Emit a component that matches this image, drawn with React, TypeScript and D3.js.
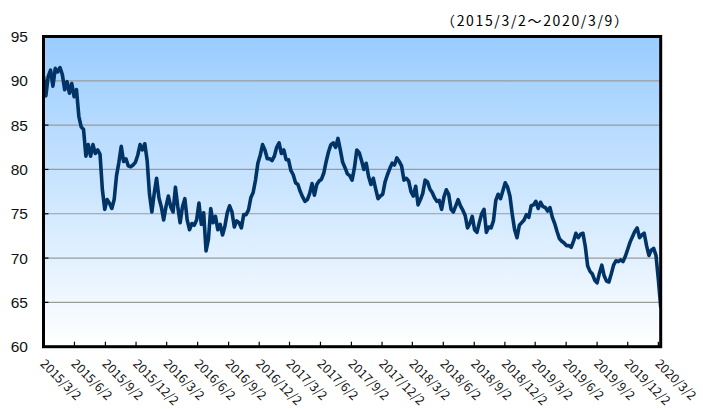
import React from 'react'
import * as d3 from 'd3'

const W = 703
const H = 409
const P = { left: 43.5, right: 660.7, top: 36.5, bottom: 346.7 }

const TITLE = '（2015/3/2～2020/3/9）'
const START = '2015-03-02'
const END = '2020-03-09'

// weekly values, first one on 2015/3/2, last one on 2020/3/9
const WEEKLY = [
  90.5, 88.3, 90.5, 91.2, 89.4, 91.4, 91.0, 91.5, 90.7, 89.0,
  89.9, 88.6, 89.7, 88.2, 89.0, 86.0, 84.8, 84.5, 81.5, 82.8,
  81.5, 82.8, 81.8, 82.2, 81.7, 77.7, 75.5, 76.6, 76.2, 75.6,
  76.6, 79.3, 80.8, 82.6, 80.9, 81.2, 80.4, 80.3, 80.5, 80.8,
  81.6, 82.8, 82.2, 82.9, 81.0, 77.2, 75.2, 77.3, 79.0, 76.8,
  75.8, 74.3, 75.8, 77.0, 75.8, 75.2, 78.0, 75.8, 74.0, 75.8,
  76.7, 74.3, 73.2, 73.9, 73.7, 74.3, 76.2, 73.8, 75.1, 70.8,
  72.1, 75.6, 74.0, 74.7, 73.2, 73.8, 72.6, 73.6, 75.1, 75.9,
  75.2, 73.5, 74.2, 74.0, 73.4, 74.9, 74.9, 75.4, 76.8, 77.4,
  78.8, 80.7, 81.6, 82.8, 82.2, 81.2, 81.2, 81.0, 81.5, 82.5,
  83.0, 81.8, 82.2, 81.1, 81.1, 79.9, 79.4, 78.5, 78.3, 77.5,
  76.9, 76.4, 76.6, 77.3, 78.4, 77.1, 78.3, 78.7, 78.9, 79.6,
  80.9, 82.0, 82.8, 83.0, 82.5, 83.5, 82.2, 80.8, 80.2, 79.5,
  79.3, 78.8, 80.2, 82.2, 81.9, 81.0, 80.0, 80.7, 79.2, 78.3,
  79.0, 77.8, 76.7, 77.0, 77.2, 78.6, 79.4, 80.1, 80.7, 80.5,
  81.3, 80.9, 80.4, 78.8, 79.0, 78.7, 77.5, 77.0, 78.1, 76.0,
  76.6, 77.3, 78.8, 78.6, 77.8, 77.4, 76.8, 76.4, 76.5, 75.5,
  76.9, 77.7, 77.2, 75.5, 75.2, 75.9, 76.6, 75.9, 75.4, 74.8,
  73.4, 73.9, 74.7, 73.2, 72.9, 74.0, 75.0, 75.5, 72.9, 73.5,
  73.4, 74.2, 76.5, 77.2, 76.7, 77.6, 78.5, 78.0, 77.0, 74.9,
  73.2, 72.3, 73.7, 74.0, 74.3, 74.9, 74.6, 75.9, 76.0, 76.4,
  75.6, 76.3, 75.8, 75.7, 75.3, 75.7, 74.6, 73.9, 73.0, 72.2,
  71.9, 71.7, 71.4, 71.4, 71.2, 71.9, 72.8, 72.3, 72.7, 72.8,
  71.3, 69.1, 68.5, 68.2, 67.5, 67.2, 68.3, 69.2, 68.0, 67.4,
  67.3, 68.2, 69.2, 69.7, 69.6, 69.8, 69.6, 70.2, 71.0, 71.8,
  72.4, 73.0, 73.4, 72.3, 72.6, 72.8, 71.4, 70.3, 70.9, 71.1,
  70.3, 67.6, 64.5,
]

const Y_TICKS = [60, 65, 70, 75, 80, 85, 90, 95]
const X_TICKS = [
  '2015/3/2', '2015/6/2', '2015/9/2', '2015/12/2',
  '2016/3/2', '2016/6/2', '2016/9/2', '2016/12/2',
  '2017/3/2', '2017/6/2', '2017/9/2', '2017/12/2',
  '2018/3/2', '2018/6/2', '2018/9/2', '2018/12/2',
  '2019/3/2', '2019/6/2', '2019/9/2', '2019/12/2',
  '2020/3/2',
]

const parseYmd = d3.timeParse('%Y-%m-%d')
const parseSlash = d3.timeParse('%Y/%m/%d')

export default function App() {
  const start = parseYmd(START) as Date
  const end = parseYmd(END) as Date
  const data = WEEKLY.map((v, i) => ({ date: d3.timeDay.offset(start, i * 7), v }))

  const x = d3.scaleTime().domain([start, end]).range([P.left, P.right])
  const y = d3.scaleLinear().domain([60, 95]).range([P.bottom, P.top])

  const line = d3
    .line<{ date: Date; v: number }>()
    .x((d) => x(d.date))
    .y((d) => y(d.v))

  const jp = '"Noto Sans CJK JP", "Noto Sans", sans-serif'

  return (
    <svg
      width={W}
      height={H}
      viewBox={`0 0 ${W} ${H}`}
      style={{ position: 'absolute', left: 0, top: 0, background: '#fff' }}
    >
      <defs>
        <linearGradient id="bg" x1="0" y1="0" x2="0" y2="1">
          <stop offset="0" stopColor="#99ccff" />
          <stop offset="1" stopColor="#ffffff" />
        </linearGradient>
        <clipPath id="clip">
          <rect x={P.left} y={P.top} width={P.right - P.left} height={P.bottom - P.top} />
        </clipPath>
      </defs>

      <text
        x={441}
        y={26}
        textLength={187}
        lengthAdjust="spacing"
        fontFamily={jp}
        fontSize={14}
        fill="#000"
      >
        {TITLE}
      </text>

      <rect x={P.left} y={P.top} width={P.right - P.left} height={P.bottom - P.top} fill="url(#bg)" />

      {/* grid */}
      {Y_TICKS.slice(1, -1).map((t) => (
        <line key={`g${t}`} x1={P.left} x2={P.right} y1={y(t)} y2={y(t)} stroke="#9a9a9a" strokeWidth={1.2} />
      ))}

      {/* y labels + inward ticks */}
      {Y_TICKS.map((t) => (
        <g key={`y${t}`}>
          <line x1={P.left} x2={P.left + 5} y1={y(t)} y2={y(t)} stroke="#000" strokeWidth={1.2} />
          <text
            x={28}
            y={y(t)}
            dy="0.36em"
            textAnchor="end"
            fontFamily='"Liberation Sans", Arial, sans-serif'
            fontSize={15.5}
            fill="#111"
          >
            {t}
          </text>
        </g>
      ))}

      {/* x ticks + rotated labels */}
      {X_TICKS.map((s) => {
        const xx = x(parseSlash(s) as Date)
        return (
          <g key={s}>
            <line x1={xx} x2={xx} y1={P.bottom} y2={P.bottom - 5} stroke="#000" strokeWidth={1.2} />
            <text
              transform={`translate(${xx},${P.bottom + 14}) rotate(45)`}
              dominantBaseline="central"
              fontFamily={jp}
              fontSize={12.5}
              fill="#111"
            >
              {s}
            </text>
          </g>
        )
      })}

      <path
        d={line(data) ?? ''}
        clipPath="url(#clip)"
        fill="none"
        stroke="#003366"
        strokeWidth={3.6}
        strokeLinejoin="round"
        strokeLinecap="round"
      />

      <rect
        x={P.left}
        y={P.top}
        width={P.right - P.left}
        height={P.bottom - P.top}
        fill="none"
        stroke="#000"
        strokeWidth={3}
      />
    </svg>
  )
}
